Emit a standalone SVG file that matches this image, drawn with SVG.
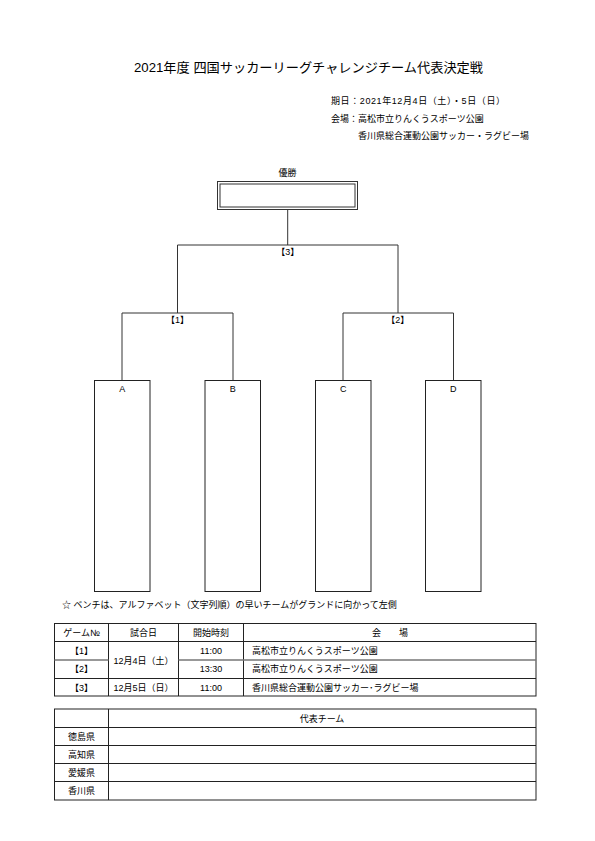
<svg xmlns="http://www.w3.org/2000/svg" width="595" height="841" viewBox="0 0 595 841">
<style>
text{font-family:"Liberation Sans","Noto Sans CJK JP",sans-serif;fill:#000;font-size:9px}
.c{text-anchor:middle}
.t{font-size:13px}
.ln{stroke:#333;stroke-width:1;fill:none}
.bx{stroke:#222;stroke-width:1;fill:#fff}
.tb{stroke:#222;stroke-width:1;fill:none}
.tg{stroke:#777;stroke-width:1.6;fill:none}
</style>
<rect width="595" height="841" fill="#fff"/>
<text class="t" x="134" y="72" textLength="349" lengthAdjust="spacingAndGlyphs">2021年度 四国サッカーリーグチャレンジチーム代表決定戦</text>
<text x="331" y="103.5" textLength="174" lengthAdjust="spacing">期日：2021年12月4日（土）・5日（日）</text>
<text x="331" y="121.5">会場：高松市立りんくうスポーツ公園</text>
<text x="358" y="139">香川県総合運動公園サッカー・ラグビー場</text>

<g id="connectors">
<path class="ln" d="M287.7,209.5 V245 M177.5,245 H398 M177.5,245 V313 M398,245 V313"/>
<path class="ln" d="M122,380.5 V313 H233 V380.5"/>
<path class="ln" d="M343,380.5 V313 H453.5 V380.5"/>
</g>

<g id="winner">
<text class="c" x="287.5" y="175.5">優勝</text>
<rect x="217.5" y="181.5" width="140" height="28" fill="#fff" stroke="#333" stroke-width="1"/>
<rect x="220" y="184" width="135" height="23" fill="none" stroke="#333" stroke-width="1"/>
</g>
<g id="g3"><text class="c" x="287.7" y="255">【3】</text></g>
<g id="g1"><text class="c" x="177.5" y="323">【1】</text></g>
<g id="g2"><text class="c" x="397.7" y="322.5">【2】</text></g>

<g id="teamA"><rect class="bx" x="94.5" y="380.5" width="55.5" height="211"/><text class="c" x="122.2" y="392">A</text></g>
<g id="teamB"><rect class="bx" x="205" y="380.5" width="55.5" height="211"/><text class="c" x="232.7" y="392">B</text></g>
<g id="teamC"><rect class="bx" x="315.5" y="380.5" width="55.5" height="211"/><text class="c" x="343.2" y="392">C</text></g>
<g id="teamD"><rect class="bx" x="425.5" y="380.5" width="55.5" height="211"/><text class="c" x="453.2" y="392">D</text></g>

<text x="62" y="608">☆ ベンチは、アルファベット（文字列順）の早いチームがグランドに向かって左側</text>

<g id="schedule">
<rect class="tb" x="54.5" y="623.5" width="481.5" height="72.5"/>
<path class="tb" d="M54.5,641.5 H536 M54.5,678.5 H536 M108.5,623.5 V696 M178.5,623.5 V696 M243.5,623.5 V696"/>
<path class="tg" d="M54.5,660 H108.5 M178.5,660 H536"/>
<text class="c" x="81.5" y="636">ゲーム№</text>
<text class="c" x="143.5" y="636">試合日</text>
<text class="c" x="211" y="636">開始時刻</text>
<text class="c" x="390" y="636">会　　場</text>
<text class="c" x="81.5" y="654">【1】</text>
<text class="c" x="81.5" y="672">【2】</text>
<text class="c" x="81.5" y="690.5">【3】</text>
<text class="c" x="143.5" y="663.5">12月4日（土）</text>
<text class="c" x="143.5" y="690.5">12月5日（日）</text>
<text class="c" x="211" y="654">11:00</text>
<text class="c" x="211" y="672">13:30</text>
<text class="c" x="211" y="690.5">11:00</text>
<text x="252" y="654">高松市立りんくうスポーツ公園</text>
<text x="252" y="672">高松市立りんくうスポーツ公園</text>
<text x="252" y="690.5">香川県総合運動公園サッカー･ラグビー場</text>
</g>

<g id="teams">
<rect class="tb" x="54.5" y="709" width="481.5" height="91"/>
<path class="tb" d="M54.5,727.5 H536 M54.5,745.5 H536 M54.5,763.5 H536 M54.5,781.5 H536 M108.5,709 V800"/>
<text class="c" x="322" y="721.5">代表チーム</text>
<text class="c" x="81.5" y="740">徳島県</text>
<text class="c" x="81.5" y="758">高知県</text>
<text class="c" x="81.5" y="776">愛媛県</text>
<text class="c" x="81.5" y="794">香川県</text>
</g>
</svg>
